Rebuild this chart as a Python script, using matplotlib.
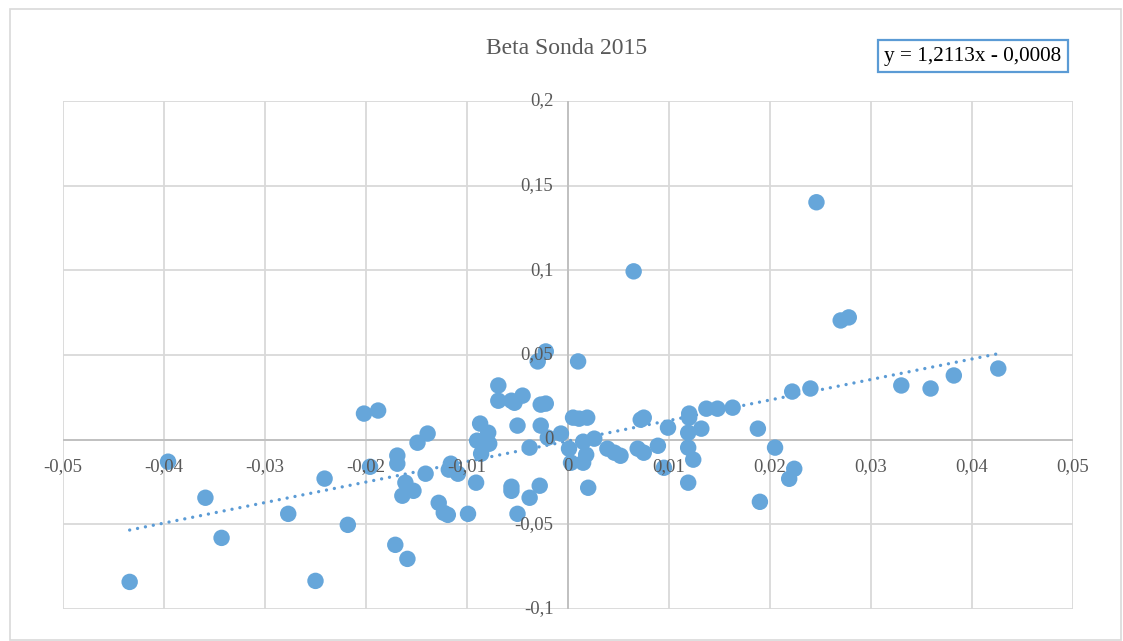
import matplotlib
matplotlib.use("Agg")
import matplotlib.pyplot as plt
import numpy as np
from matplotlib.patches import Rectangle

title = "Beta Sonda 2015"
slope = 1.2113
intercept = -0.0008

market = [-0.0434, -0.0396, -0.0359, -0.0343, -0.0277, -0.0250, -0.0241, -0.0218,
          -0.0202, -0.0188, -0.0196, -0.0171, -0.0169, -0.0169, -0.0164, -0.0161,
          -0.0159, -0.0153, -0.0149, -0.0141, -0.0139, -0.0128, -0.0123, -0.0119,
          -0.0118, -0.0116, -0.0109, -0.0099, -0.0091, -0.0090, -0.0087, -0.0086,
          -0.0080, -0.0079, -0.0078, -0.0069, -0.0069, -0.0056, -0.0053, -0.0050,
          -0.0045, -0.0056, -0.0056, -0.0050, -0.0038, -0.0038, -0.0030, -0.0022,
          -0.0027, -0.0027, -0.0022, -0.0028, -0.0020, -0.0007, 0.0001, 0.0003,
          0.0005, 0.0010, 0.0011, 0.0015, 0.0015, 0.0018, 0.0019, 0.0020,
          0.0026, 0.0039, 0.0046, 0.0052, 0.0065, 0.0069, 0.0072, 0.0075,
          0.0075, 0.0089, 0.0095, 0.0099, 0.0119, 0.0119, 0.0120, 0.0120,
          0.0124, 0.0119, 0.0132, 0.0137, 0.0148, 0.0163, 0.0188, 0.0190,
          0.0205, 0.0219, 0.0224, 0.0222, 0.0240, 0.0246, 0.0270, 0.0278,
          0.0330, 0.0359, 0.0382, 0.0426]
stock = [-0.0840, -0.0130, -0.0343, -0.0580, -0.0438, -0.0834, -0.0230, -0.0503,
         0.0154, 0.0172, -0.0160, -0.0621, -0.0094, -0.0142, -0.0331, -0.0254,
         -0.0704, -0.0302, -0.0018, -0.0201, 0.0036, -0.0373, -0.0432, -0.0444,
         -0.0177, -0.0142, -0.0201, -0.0438, -0.0254, -0.0006, 0.0095, -0.0083,
         -0.0012, 0.0041, -0.0024, 0.0320, 0.0230, 0.0230, 0.0218, 0.0083,
         0.0260, -0.0278, -0.0302, -0.0438, -0.0343, -0.0047, 0.0462, 0.0521,
         0.0083, 0.0207, 0.0213, -0.0272, 0.0012, 0.0036, -0.0053, -0.0136,
         0.0130, 0.0462, 0.0124, -0.0012, -0.0136, -0.0089, 0.0130, -0.0284,
         0.0006, -0.0053, -0.0077, -0.0095, 0.0994, -0.0053, 0.0118, 0.0130,
         -0.0077, -0.0036, -0.0166, 0.0071, -0.0047, 0.0041, 0.0130, 0.0154,
         -0.0118, -0.0254, 0.0065, 0.0183, 0.0183, 0.0189, 0.0065, -0.0367,
         -0.0047, -0.0231, -0.0172, 0.0284, 0.0302, 0.1402, 0.0704, 0.0722,
         0.0320, 0.0302, 0.0379, 0.0420]

x_ticks = [-0.05, -0.04, -0.03, -0.02, -0.01, 0.0, 0.01, 0.02, 0.03, 0.04, 0.05]
x_labels = ["-0,05", "-0,04", "-0,03", "-0,02", "-0,01", "0", "0,01", "0,02", "0,03", "0,04", "0,05"]
y_ticks = [-0.1, -0.05, 0.0, 0.05, 0.1, 0.15, 0.2]
y_labels = ["-0,1", "-0,05", "0", "0,05", "0,1", "0,15", "0,2"]

W, H = 1123, 641
fig = plt.figure(figsize=(W / 100, H / 100), dpi=100)
fig.patch.set_facecolor("white")
serif = ["Liberation Serif", "DejaVu Serif"]
txt_color = "#595959"
grid_color = "#D9D9D9"
blue = "#5B9BD5"

# outer chart border
fig.patches.append(Rectangle((10 / W, 1 - 640 / H), 1111 / W, 631 / H, transform=fig.transFigure,
                             fill=False, edgecolor="#D9D9D9", linewidth=1.2))

ax = fig.add_axes([63 / W, 1 - 609 / H, (1073 - 63) / W, (609 - 101) / H])
ax.set_xlim(-0.05, 0.05)
ax.set_ylim(-0.1, 0.2)
for s in ax.spines.values():
    s.set_visible(False)
ax.set_xticks(x_ticks)
ax.set_yticks(y_ticks)
ax.tick_params(length=0, labelbottom=False, labelleft=False)
ax.grid(True, color=grid_color, linewidth=1.3, zorder=0)
ax.set_axisbelow(True)
ax.axhline(0, color="#BFBFBF", linewidth=1.3, zorder=1)
ax.axvline(0, color="#BFBFBF", linewidth=1.3, zorder=1)

xs = np.array(market)
x_line = np.array([xs.min(), xs.max()])
ax.plot(x_line, slope * x_line + intercept, linestyle=(0, (0.01, 2.4)), color=blue,
        linewidth=2.4, dash_capstyle="round", zorder=2)

ax.scatter(market, stock, s=140, color="#66A6DA", edgecolors="none", zorder=3)

for xv, lab in zip(x_ticks, x_labels):
    ax.annotate(lab, (xv, 0), xytext=(0, -19.5), textcoords="offset points",
                ha="center", va="center", fontsize=13.5, color=txt_color,
                family=serif, zorder=5)
for yv, lab in zip(y_ticks, y_labels):
    ax.annotate(lab, (0, yv), xytext=(-10.5, 0), textcoords="offset points",
                ha="right", va="center", fontsize=13.5, color=txt_color,
                family=serif, zorder=5)

fig.text(567 / W, 1 - 49 / H, title, ha="center", va="center", fontsize=17,
         color=txt_color, family=serif)

eq = "y = 1,2113x - 0,0008"
fig.text(973 / W, 1 - 56 / H, eq, ha="center", va="center", fontsize=15.3,
         color="#000000", family=serif,
         bbox=dict(boxstyle="square,pad=0.3", facecolor="white", edgecolor=blue, linewidth=1.6))

fig.savefig("out.png", dpi=100, facecolor="white")
